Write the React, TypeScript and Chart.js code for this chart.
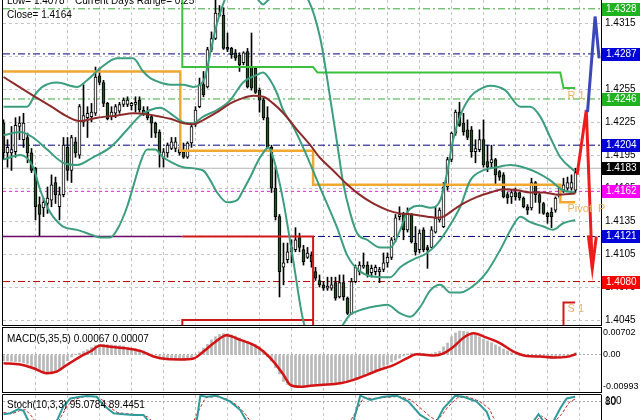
import React, { useEffect, useRef } from "react";
import { Chart, registerables } from "chart.js";

Chart.register(...registerables);

const FONT = '"Liberation Sans", Arial, sans-serif';

// ---------------- candles (one per bar index 0..143) ----------------
const opens = [1.4224,1.4197,1.4197,1.4198,1.4221,1.4209,1.4211,1.4197,1.4183,1.4150,
1.4147,1.4151,1.4154,1.4170,1.4148,1.4159,1.4202,1.4181,1.4207,1.4195,
1.4225,1.4229,1.4230,1.4233,1.4267,1.4261,1.4242,1.4230,1.4233,1.4235,
1.4241,1.4241,1.4240,1.4241,1.4245,1.4236,1.4234,1.4230,1.4224,1.4216,
1.4192,1.4197,1.4201,1.4201,1.4200,1.4198,1.4193,1.4206,1.4224,1.4239,
1.4259,1.4257,1.4291,1.4301,1.4322,1.4322,1.4293,1.4292,1.4288,1.4286,
1.4279,1.4289,1.4275,1.4274,1.4254,1.4245,1.4229,1.4202,1.4165,1.4139,
1.4093,1.4100,1.4107,1.4109,1.4120,1.4109,1.4102,1.4104,1.4089,1.4081,
1.4077,1.4074,1.4074,1.4079,1.4066,1.4079,1.4065,1.4051,1.4080,1.4089,
1.4093,1.4095,1.4088,1.4089,1.4089,1.4091,1.4097,1.4102,1.4118,1.4139,
1.4142,1.4127,1.4141,1.4115,1.4109,1.4127,1.4111,1.4111,1.4125,1.4136,
1.4130,1.4166,1.4191,1.4215,1.4234,1.4224,1.4218,1.4218,1.4198,1.4200,
1.4209,1.4189,1.4188,1.4191,1.4180,1.4177,1.4159,1.4157,1.4161,1.4161,
1.4156,1.4148,1.4147,1.4170,1.4159,1.4151,1.4142,1.4143,1.4145,1.4157,
1.4163,1.4165,1.4165,1.4163];
const highs = [1.4227,1.4209,1.4221,1.4229,1.4230,1.4233,1.4215,1.4201,1.4184,1.4157,
1.4156,1.4166,1.4177,1.4175,1.4166,1.4211,1.4211,1.4213,1.4211,1.4241,
1.4259,1.4239,1.4242,1.4275,1.4274,1.4263,1.4243,1.4239,1.4241,1.4243,
1.4247,1.4248,1.4243,1.4248,1.4248,1.4239,1.4239,1.4231,1.4225,1.4218,
1.4201,1.4206,1.4211,1.4211,1.4202,1.4206,1.4207,1.4224,1.4239,1.4265,
1.4271,1.4293,1.4307,1.4336,1.4331,1.4329,1.4306,1.4293,1.4291,1.4288,
1.4289,1.4292,1.4306,1.4275,1.4256,1.4247,1.4239,1.4204,1.4184,1.4141,
1.4115,1.4115,1.4118,1.4129,1.4124,1.4113,1.4111,1.4107,1.4093,1.4086,
1.4080,1.4084,1.4084,1.4084,1.4086,1.4086,1.4066,1.4083,1.4095,1.4098,
1.4106,1.4098,1.4095,1.4095,1.4093,1.4106,1.4106,1.4120,1.4141,1.4148,
1.4143,1.4147,1.4142,1.4130,1.4127,1.4129,1.4113,1.4130,1.4148,1.4147,
1.4170,1.4193,1.4216,1.4236,1.4243,1.4233,1.4227,1.4221,1.4209,1.4218,
1.4227,1.4204,1.4204,1.4192,1.4181,1.4179,1.4161,1.4163,1.4165,1.4161,
1.4157,1.4150,1.4174,1.4171,1.4161,1.4152,1.4143,1.4147,1.4157,1.4166,
1.4174,1.4175,1.4177,1.4183];
const lows = [1.4191,1.4184,1.4181,1.4193,1.4209,1.4202,1.4188,1.4179,1.4136,1.4121,
1.4139,1.4142,1.4148,1.4151,1.4136,1.4157,1.4172,1.4170,1.4193,1.4192,
1.4221,1.4211,1.4225,1.4231,1.4259,1.4239,1.4227,1.4227,1.4229,1.4233,
1.4239,1.4239,1.4236,1.4234,1.4234,1.4231,1.4227,1.4211,1.4211,1.4184,
1.4184,1.4193,1.4200,1.4198,1.4195,1.4192,1.4192,1.4202,1.4221,1.4238,
1.4248,1.4256,1.4289,1.4300,1.4321,1.4291,1.4289,1.4283,1.4281,1.4271,
1.4277,1.4256,1.4254,1.4251,1.4234,1.4227,1.4201,1.4161,1.4136,1.4066,
1.4077,1.4097,1.4097,1.4107,1.4107,1.4095,1.4101,1.4093,1.4081,1.4075,
1.4072,1.4072,1.4072,1.4063,1.4065,1.4063,1.4050,1.4050,1.4079,1.4086,
1.4092,1.4084,1.4084,1.4086,1.4079,1.4089,1.4093,1.4100,1.4116,1.4136,
1.4118,1.4125,1.4115,1.4104,1.4106,1.4107,1.4092,1.4111,1.4124,1.4134,
1.4129,1.4163,1.4189,1.4213,1.4221,1.4213,1.4209,1.4193,1.4188,1.4198,
1.4184,1.4180,1.4184,1.4168,1.4172,1.4156,1.4151,1.4151,1.4154,1.4154,
1.4147,1.4141,1.4145,1.4152,1.4142,1.4141,1.4133,1.4129,1.4143,1.4156,
1.4161,1.4163,1.4163,1.4161];
const closes = [1.4197,1.4202,1.4200,1.4222,1.4224,1.4224,1.4197,1.4181,1.4148,1.4141,
1.4152,1.4156,1.4168,1.4159,1.4159,1.4204,1.4181,1.4211,1.4197,1.4239,
1.4231,1.4233,1.4234,1.4266,1.4261,1.4242,1.4228,1.4234,1.4239,1.4241,
1.4245,1.4245,1.4242,1.4243,1.4236,1.4233,1.4229,1.4224,1.4215,1.4197,
1.4198,1.4204,1.4207,1.4207,1.4197,1.4193,1.4206,1.4221,1.4236,1.4259,
1.4250,1.4291,1.4301,1.4324,1.4324,1.4292,1.4291,1.4286,1.4283,1.4277,
1.4288,1.4257,1.4256,1.4252,1.4245,1.4229,1.4202,1.4165,1.4139,1.4089,
1.4097,1.4107,1.4111,1.4118,1.4111,1.4098,1.4106,1.4098,1.4083,1.4077,
1.4074,1.4076,1.4077,1.4065,1.4079,1.4066,1.4051,1.4080,1.4093,1.4095,
1.4095,1.4086,1.4092,1.4093,1.4091,1.4097,1.4102,1.4118,1.4138,1.4141,
1.4127,1.4142,1.4116,1.4107,1.4124,1.4109,1.4109,1.4127,1.4138,1.4145,
1.4166,1.4191,1.4215,1.4234,1.4222,1.4216,1.4211,1.4198,1.4201,1.4209,
1.4186,1.4184,1.4191,1.4177,1.4175,1.4157,1.4156,1.4161,1.4157,1.4156,
1.4148,1.4145,1.4170,1.4159,1.4152,1.4142,1.4139,1.4139,1.4156,1.4165,
1.4168,1.4170,1.4170,1.4179];

// ---------------- moving average & bollinger bands (bar index, price) ----------------
const maIdx = [0,7,12,16,19,23.5,28.5,32.5,36,39,41.7,45,47.5,50,53.4,56.7,60,62.4,65,67.4,70,73.4,76.7,79,82.4,86,89,92.4,96,99,102.4,106,108.4,110,112.4,115,118.4,121.7,125,128.4,131.7,135,138.4,143];
const maVal = [1.4266,1.4250,1.4239,1.4230,1.4226,1.4229,1.4231,1.4233,1.4232,1.4230,1.4228,1.4224,1.4223,1.4227,1.4234,1.4242,1.4247,1.4249,1.4248,1.4242,1.4233,1.4218,1.4204,1.4193,1.4181,1.4168,1.4159,1.4151,1.4145,1.4142,1.4141,1.4139,1.4138,1.4139,1.4145,1.4151,1.4157,1.4161,1.4164,1.4163,1.4161,1.4161,1.4159,1.4160];

const upperIdx = [0,5.9,7.9,9.7,13.4,18.4,20.9,24.2,28.4,32.4,34.9,36.7,39.2,41.7,44.9,47.4,49.2,50.4,51.7,53.4,54.7,55.9,60.4,63.7,64.9,66.2,70.4,74.2,76.2,79.2,80.9,83.4,84.9,86.7,88.4,90.9,94.2,96.7,99.2,100.9,104.2,106.7,109.2,110.9,112.4,114.2,116.7,119.2,121.7,125.4,129.2,131.7,134.2,136.7,139.2,142.9];
const upperVal = [1.4239,1.4239,1.4250,1.4257,1.4261,1.4257,1.4263,1.4274,1.4283,1.4283,1.4271,1.4265,1.4261,1.4259,1.4259,1.4257,1.4259,1.4266,1.4288,1.4315,1.4330,1.4341,1.4350,1.4336,1.4332,1.4336,1.4345,1.4341,1.4336,1.4301,1.4265,1.4206,1.4170,1.4142,1.4124,1.4118,1.4111,1.4111,1.4127,1.4143,1.4149,1.4147,1.4154,1.4179,1.4209,1.4231,1.4248,1.4255,1.4258,1.4254,1.4239,1.4239,1.4230,1.4211,1.4193,1.4180];

const midIdx = [0,4.2,7.4,10.9,14.9,18.4,22.4,26.7,30.9,34.2,36.7,39.2,41.7,44.9,47.4,49.9,53.4,56.7,59.9,63.4,64.9,66.7,68.4,69.9,72.4,74.9,79.2,83.4,85.9,89.2,94.2,96.7,99.2,102.4,105.9,109.2,112.4,114.2,116.7,119.9,123.4,126.7,129.9,133.4,136.7,139.9,142.9];
const midVal = [1.4213,1.4216,1.4211,1.4200,1.4188,1.4186,1.4193,1.4202,1.4218,1.4231,1.4236,1.4238,1.4233,1.4225,1.4224,1.4230,1.4236,1.4245,1.4261,1.4268,1.4270,1.4263,1.4251,1.4236,1.4221,1.4202,1.4165,1.4129,1.4104,1.4089,1.4084,1.4084,1.4093,1.4100,1.4106,1.4118,1.4136,1.4148,1.4172,1.4181,1.4184,1.4186,1.4184,1.4179,1.4172,1.4163,1.4161];

const lowerIdx = [0,4.2,7.4,9.2,10.9,12.4,14.9,18.4,22.4,24.2,26.7,28.4,30.9,32.4,34.2,35.9,37.9,39.9,41.7,44.9,49.9,51.7,53.4,55.9,58.4,59.9,61.7,63.4,64.9,66.2,67.4,69.9,72.4,74.9,77.9,81.7,84.9,86.7,89.2,92.4,95.9,99.2,101.7,104.2,106.7,109.2,111.7,114.2,118.4,120.9,124.2,127.4,129.2,131.7,135,137.4,139.9,142.9];
const lowerVal = [1.4191,1.4195,1.4184,1.4163,1.4148,1.4139,1.4130,1.4127,1.4122,1.4120,1.4120,1.4127,1.4148,1.4166,1.4188,1.4200,1.4200,1.4193,1.4189,1.4184,1.4181,1.4172,1.4161,1.4152,1.4154,1.4163,1.4175,1.4188,1.4197,1.4202,1.4193,1.4154,1.4100,1.4045,1.4018,1.4022,1.4041,1.4050,1.4054,1.4057,1.4059,1.4051,1.4048,1.4057,1.4072,1.4077,1.4070,1.4070,1.4079,1.4089,1.4109,1.4131,1.4139,1.4134,1.4130,1.4127,1.4133,1.4136];

// ---------------- daily pivot steps ----------------
const pivotIdx = [-1,44.2,44.2,77.4,77.4,139.2,139.2,142.9];
const pivotVal = [1.4271,1.4271,1.4199,1.4199,1.4168,1.4168,1.4152,1.4152];
const r1Idx = [44.7,44.7,77.4,78.5,139.2,140,142.9];
const r1Val = [1.4360,1.4275,1.4275,1.4270,1.4270,1.4256,1.4256];
const s1aIdx = [44.7,77.4,77.4];
const s1aVal = [1.4121,1.4121,1.4000];
const s2aIdx = [44.7,44.7,77.4];
const s2aVal = [1.4000,1.4045,1.4045];
const s1bIdx = [140,140,142.9];
const s1bVal = [1.4000,1.4061,1.4061];
const s0Idx = [-1,44.7];
const s0Val = [1.4121,1.4121];

// ---------------- forecast arrows ----------------
const redUpIdx = [143.4,145.7,147.2];
const redUpVal = [1.4177,1.4236,1.4092];
const redHeadIdx = [146.2,147.2,148.2];
const redHeadVal = [1.4122,1.4092,1.4121];
const blueIdx = [146.0,147.9,148.9];
const blueVal = [1.4234,1.4321,1.4283];

// ---------------- price levels & ticks ----------------
const levelValues = [1.4328,1.4287,1.4246,1.4204,1.4183,1.4162,1.4121,1.4080];
const levelBg = ["#1fb31f","#0000d8","#1fb31f","#0000d8","#000000","#ff00ff","#0000d8","#ff0000"];
const levelLine = ["#3aa83a","#000080","#3aa83a","#000080","#b4b4b4","#cc33cc","#000080","#c00000"];
const levelDash = [[7,3,2,3],[7,3,2,3],[7,3,2,3],[7,3,2,3],[],[3,3],[7,3,2,3],[7,3,2,3]];
const priceTicks = [1.4045,1.4075,1.4105,1.4135,1.4165,1.4195,1.4225,1.4255,1.4285,1.4315];
const gridIdx = [8,16,24,32,40,48,56,64,72,80,88,96,104,112,120,128,136,144];

// ---------------- MACD ----------------
const macdHist = [-0.0019,-0.0019,-0.0020,-0.0021,-0.0022,-0.0024,-0.0029,-0.0038,-0.0046,-0.0052,
-0.0056,-0.0060,-0.0060,-0.0054,-0.0046,-0.0037,-0.0018,-0.0006,0.0001,0.0006,
0.0011,0.0017,0.0024,0.0030,0.0034,0.0034,0.0033,0.0032,0.0031,0.0030,
0.0028,0.0025,0.0022,0.0019,0.0016,0.0012,0.0007,0.0003,0.0000,-0.0005,
-0.0011,-0.0013,-0.0015,-0.0016,-0.0016,-0.0016,-0.0012,-0.0007,0.0000,0.0010,
0.0022,0.0034,0.0048,0.0058,0.0065,0.0068,0.0068,0.0064,0.0060,0.0054,
0.0046,0.0042,0.0038,0.0034,0.0027,0.0012,-0.0006,-0.0019,-0.0040,-0.0060,
-0.0084,-0.0094,-0.0102,-0.0104,-0.0103,-0.0101,-0.0099,-0.0097,-0.0096,-0.0095,
-0.0094,-0.0093,-0.0091,-0.0089,-0.0087,-0.0084,-0.0081,-0.0077,-0.0073,-0.0069,
-0.0063,-0.0056,-0.0051,-0.0047,-0.0042,-0.0036,-0.0030,-0.0022,-0.0016,-0.0010,
-0.0003,0.0003,0.0005,0.0005,0.0006,0.0005,0.0003,0.0004,0.0008,0.0012,
0.0026,0.0038,0.0058,0.0070,0.0076,0.0075,0.0073,0.0069,0.0064,0.0058,
0.0051,0.0045,0.0039,0.0032,0.0026,0.0019,0.0013,0.0007,0.0002,-0.0001,
-0.0002,-0.0003,-0.0004,-0.0005,-0.0006,-0.0008,-0.0009,-0.0010,-0.0011,-0.0010,
-0.0008,-0.0004,0.0001,0.0007];
const sigIdx = [0,4.2,7.5,10.8,13.3,15.8,19.2,21.7,24.2,26.7,30.8,34.2,37.5,40.8,44.2,47.5,50,52.5,55.8,59.2,62.5,65,67.5,70,71.7,74.2,76.7,79.2,84.2,87.5,90.8,94.2,97.5,100.8,103.3,105.8,107.5,110,112.5,115,117.5,120.8,124.2,127.5,130.8,134.2,137.5,140.8,143.2];
const sigVal = [-0.0026,-0.0030,-0.0042,-0.0058,-0.0053,-0.0032,-0.0005,0.0011,0.0030,0.0026,0.0021,0.0013,-0.0005,-0.0013,-0.0014,-0.0011,0.0011,0.0037,0.0063,0.0048,0.0032,0.0011,-0.0021,-0.0063,-0.0095,-0.0101,-0.0098,-0.0095,-0.0090,-0.0079,-0.0063,-0.0046,-0.0032,-0.0011,0.0002,0.0000,-0.0002,0.0005,0.0026,0.0055,0.0069,0.0055,0.0037,0.0011,-0.0003,-0.0005,-0.0008,-0.0006,0.0003];
const macdTicks = [-0.00993,0,0.00702];

// ---------------- Stochastic ----------------
const stochIdx = [0,1.7,3.75,5,6.25,8,12,13.3,15,16.7,19.2,20.8,23.3,25,27.5,30,32.5,35,36.25,38,46,48.3,49.2,50.8,53.3,56.7,59.2,60.8,63,85,87.5,89.2,91.7,95,98.3,101.25,104.2,106.7,107.5,108.3,110,112.9,115,118.3,120.8,121.7,123,131,132.5,133.75,135,136,137.5,139.2,140.8,142.9];
const stochVal = [45,48,60,55,25,10,10,25,68,90,95,97,95,71,48,45,43,43,25,10,10,25,98,95,98,81,57,25,10,10,25,98,86,95,98,81,43,25,20,25,62,98,95,81,52,25,10,10,25,45,25,15,25,62,90,95];
const stochSigIdx = [0,2,4,5.5,7,8.5,13,14.5,16,18,20,22.5,24.5,26.5,28.5,31,34,36,37.5,47,49,50.5,53,56,58.5,60.5,62,86,88.5,90,92.5,95.5,99,102,104.5,106.5,108,109.5,111,113.5,116,119,121.5,122.5,124,132,133.5,134.5,136,137.5,139.5,141.5,143];
const stochSigVal = [50,46,55,58,40,15,12,40,70,88,95,96,88,65,50,46,44,38,20,12,60,92,96,88,70,45,20,12,60,92,90,93,96,85,60,40,28,40,65,92,95,82,60,35,15,15,30,40,28,20,45,80,89];

const X_MIN = -0.125;
const X_MAX = 149.375;

const pts = (xs: number[], ys: number[]) => xs.map((x, k) => ({ x, y: ys[k] }));

const lineDs = (data: any[], color: string, width: number, order: number, extra: any = {}) => ({
  type: "line",
  data,
  borderColor: color,
  borderWidth: width,
  pointRadius: 0,
  fill: false,
  tension: 0,
  clip: 0,
  order,
  ...extra,
});

const xAxis = () => ({
  type: "linear",
  min: X_MIN,
  max: X_MAX,
  offset: false,
  afterBuildTicks: (s: any) => { s.ticks = gridIdx.map((v) => ({ value: v })); },
  afterFit: (s: any) => { s.height = 0; },
  ticks: { display: false },
  grid: { color: "#c4c4c4", drawTicks: false, offset: false },
  border: { display: false, dash: [3, 3] },
});

const baseOptions = (padTop: number, padBottom: number) => ({
  responsive: false,
  animation: false,
  devicePixelRatio: 1,
  events: [],
  layout: { padding: { left: 3, right: 0, top: padTop, bottom: padBottom } },
  plugins: { legend: { display: false }, tooltip: { enabled: false } },
});

export default function App() {
  const mainRef = useRef<HTMLCanvasElement>(null);
  const macdRef = useRef<HTMLCanvasElement>(null);
  const stochRef = useRef<HTMLCanvasElement>(null);

  useEffect(() => {
    Chart.defaults.font.family = FONT;
    const idx = opens.map((_, i) => i);
    const bodyColors = idx.map((i) => (closes[i] >= opens[i] ? "#ffffff" : "#245024"));

    const mainDatasets: any[] = [];
    levelValues.forEach((v, k) => {
      mainDatasets.push(lineDs([{ x: X_MIN, y: v }, { x: X_MAX, y: v }], levelLine[k], 1, 10, { borderDash: levelDash[k] }));
    });
    mainDatasets.push({
      type: "bar", data: idx.map((i) => ({ x: i, y: [lows[i], highs[i]] })),
      backgroundColor: "#000000", barThickness: 1, grouped: false, order: 6,
    });
    mainDatasets.push({
      type: "bar", data: idx.map((i) => ({ x: i, y: [opens[i], closes[i]] })),
      backgroundColor: bodyColors, borderColor: "#000000", borderWidth: 1, borderSkipped: false,
      barThickness: 3, grouped: false, minBarLength: 1, order: 5,
    });
    mainDatasets.push(lineDs(pts(s0Idx, s0Val), "#6a0a6a", 1.5, 4));
    mainDatasets.push(lineDs(pts(pivotIdx, pivotVal), "#f0a830", 2.5, 3));
    mainDatasets.push(lineDs(pts(r1Idx, r1Val), "#3cc03c", 2, 3));
    mainDatasets.push(lineDs(pts(s1aIdx, s1aVal), "#d01818", 2, 3));
    mainDatasets.push(lineDs(pts(s2aIdx, s2aVal), "#d01818", 2, 3));
    mainDatasets.push(lineDs(pts(s1bIdx, s1bVal), "#d01818", 2, 3));
    const smooth = { cubicInterpolationMode: "monotone", tension: 0.4 };
    mainDatasets.push(lineDs(pts(upperIdx, upperVal), "#3c9e7e", 2, 2, smooth));
    mainDatasets.push(lineDs(pts(midIdx, midVal), "#3c9e7e", 2, 2, smooth));
    mainDatasets.push(lineDs(pts(lowerIdx, lowerVal), "#3c9e7e", 2, 2, smooth));
    mainDatasets.push(lineDs(pts(maIdx, maVal), "#8e2a2a", 2, 1, smooth));
    mainDatasets.push(lineDs(pts(blueIdx, blueVal), "#3a48b8", 3, 0));
    mainDatasets.push(lineDs(pts(redUpIdx, redUpVal), "#ee1c1c", 3, 0));
    mainDatasets.push(lineDs(pts(redHeadIdx, redHeadVal), "#ee1c1c", 3, 0));

    const mainOverlay = {
      id: "mainOverlay",
      afterDraw(chart: any) {
        const { ctx, chartArea: a } = chart;
        const y = chart.scales.y;
        const x = chart.scales.x;
        ctx.save();
        ctx.strokeStyle = "#000";
        ctx.lineWidth = 1;
        ctx.beginPath();
        ctx.moveTo(2.5, 0);
        ctx.lineTo(2.5, a.bottom + 0.5);
        ctx.lineTo(a.right + 0.5, a.bottom + 0.5);
        ctx.stroke();
        ctx.font = `10px ${FONT}`;
        ctx.textBaseline = "middle";
        ctx.textAlign = "left";
        levelValues.forEach((v, k) => {
          const py = Math.round(y.getPixelForValue(v));
          ctx.fillStyle = levelBg[k];
          ctx.fillRect(a.right + 1, py - 6, 39, 13);
          ctx.fillStyle = "#ffffff";
          ctx.fillText(v.toFixed(4), a.right + 5, py + 0.5);
        });
        ctx.font = `11px ${FONT}`;
        ctx.fillStyle = "#e8b060";
        const lx = x.getPixelForValue(141);
        ctx.fillText("R 1", lx, y.getPixelForValue(1.4256) + 8);
        ctx.fillText("Pivot  P", lx, y.getPixelForValue(1.4152) + 7);
        ctx.fillText("S 1", lx, y.getPixelForValue(1.4061) + 7);
        ctx.font = `10px ${FONT}`;
        ctx.fillStyle = "#000";
        ctx.fillText("Low= 1.4078", 7, 1);
        ctx.fillText("Current Days Range= 0.25", 75, 1);
        ctx.fillText("Close= 1.4164", 7, 15);
        ctx.restore();
      },
    };

    const main = new Chart(mainRef.current as HTMLCanvasElement, {
      type: "line",
      data: { datasets: mainDatasets },
      options: {
        ...baseOptions(0, 1),
        scales: {
          x: xAxis(),
          y: {
            type: "linear",
            position: "right",
            min: 1.40405,
            max: 1.4336,
            afterBuildTicks: (s: any) => { s.ticks = priceTicks.map((v) => ({ value: v })); },
            afterFit: (s: any) => { s.width = 39; s.paddingTop = 0; s.paddingBottom = 0; },
            ticks: { color: "#000", font: { size: 10, family: FONT }, padding: 4, autoSkip: false, callback: (v: any) => Number(v).toFixed(4) },
            grid: { color: "#c4c4c4", drawTicks: false },
            border: { display: true, color: "#000", dash: [3, 3] },
          },
        },
      } as any,
      plugins: [mainOverlay],
    } as any);

    const macdOverlay = {
      id: "macdOverlay",
      afterDraw(chart: any) {
        const { ctx, chartArea: a } = chart;
        ctx.save();
        ctx.strokeStyle = "#000";
        ctx.lineWidth = 1;
        ctx.strokeRect(2.5, 1.5, a.right - 2, a.bottom - 1);
        ctx.font = `10px ${FONT}`;
        ctx.textBaseline = "middle";
        ctx.fillStyle = "#000";
        ctx.fillText("MACD(5,35,5) 0.00067 0.00007", 7, 13);
        ctx.restore();
      },
    };

    const macd = new Chart(macdRef.current as HTMLCanvasElement, {
      type: "line",
      data: {
        datasets: [
          {
            type: "bar", data: idx.map((i) => ({ x: i, y: macdHist[i] })),
            backgroundColor: "#b8b8b8", barThickness: 2, grouped: false, order: 2,
          },
          lineDs(pts(sigIdx, sigVal), "#d41414", 2.5, 0, { cubicInterpolationMode: "monotone", tension: 0.4 }),
        ],
      },
      options: {
        ...baseOptions(2, 2),
        scales: {
          x: xAxis(),
          y: {
            type: "linear",
            position: "right",
            min: -0.01175,
            max: 0.00857,
            afterBuildTicks: (s: any) => { s.ticks = macdTicks.map((v) => ({ value: v })); },
            afterFit: (s: any) => { s.width = 39; s.paddingTop = 0; s.paddingBottom = 0; },
            ticks: { color: "#000", font: { size: 9, family: FONT }, padding: 2, autoSkip: false, callback: (v: any) => (Number(v) === 0 ? "0.00" : Number(v).toFixed(5)) },
            grid: { color: (c: any) => (c.tick && c.tick.value === 0 ? "#a8a8a8" : "rgba(0,0,0,0)"), drawTicks: false },
            border: { display: true, color: "#000", dash: [2, 2] },
          },
        },
      } as any,
      plugins: [macdOverlay],
    } as any);

    const stochOverlay = {
      id: "stochOverlay",
      afterDraw(chart: any) {
        const { ctx, chartArea: a } = chart;
        const y = chart.scales.y;
        ctx.save();
        ctx.strokeStyle = "#000";
        ctx.lineWidth = 1;
        ctx.beginPath();
        ctx.moveTo(2.5, 40);
        ctx.lineTo(2.5, 0.5);
        ctx.lineTo(a.right + 0.5, 0.5);
        ctx.stroke();
        ctx.font = `10px ${FONT}`;
        ctx.textBaseline = "middle";
        ctx.fillStyle = "#000";
        [100, 80].forEach((v) => {
          const py = Math.max(y.getPixelForValue(v), a.top + 6);
          ctx.fillText(String(v), a.right + 4, py);
        });
        ctx.fillText("Stoch(10,3,3) 95.0784 89.4451", 7, 11);
        ctx.restore();
      },
    };

    const stoch = new Chart(stochRef.current as HTMLCanvasElement, {
      type: "line",
      data: {
        datasets: [
          lineDs(pts(stochSigIdx, stochSigVal), "#cc2222", 1, 1, { borderDash: [3, 2] }),
          lineDs(pts(stochIdx, stochVal), "#2f9a9a", 2, 0),
        ],
      },
      options: {
        ...baseOptions(1, 2),
        scales: {
          x: xAxis(),
          y: {
            type: "linear",
            position: "right",
            min: 0,
            max: 100,
            afterBuildTicks: (s: any) => { s.ticks = [{ value: 80 }]; },
            afterFit: (s: any) => { s.width = 39; s.paddingTop = 0; s.paddingBottom = 0; },
            ticks: { display: false },
            grid: { color: "#a8a8a8", drawTicks: false },
            border: { display: true, color: "#000", dash: [2, 2] },
          },
        },
      } as any,
      plugins: [stochOverlay],
    } as any);

    return () => {
      main.destroy();
      macd.destroy();
      stoch.destroy();
    };
  }, []);

  const cv = (top: number, h: number): React.CSSProperties => ({
    position: "absolute", left: 0, top, width: 640, height: h, display: "block",
  });

  return (
    <div style={{ position: "fixed", left: 0, top: 0, width: 640, height: 420, overflow: "hidden", background: "#ffffff" }}>
      <canvas ref={mainRef} width={640} height={326} style={cv(0, 326)} />
      <canvas ref={macdRef} width={640} height={68} style={cv(326, 68)} />
      <canvas ref={stochRef} width={640} height={38} style={cv(394, 38)} />
    </div>
  );
}
